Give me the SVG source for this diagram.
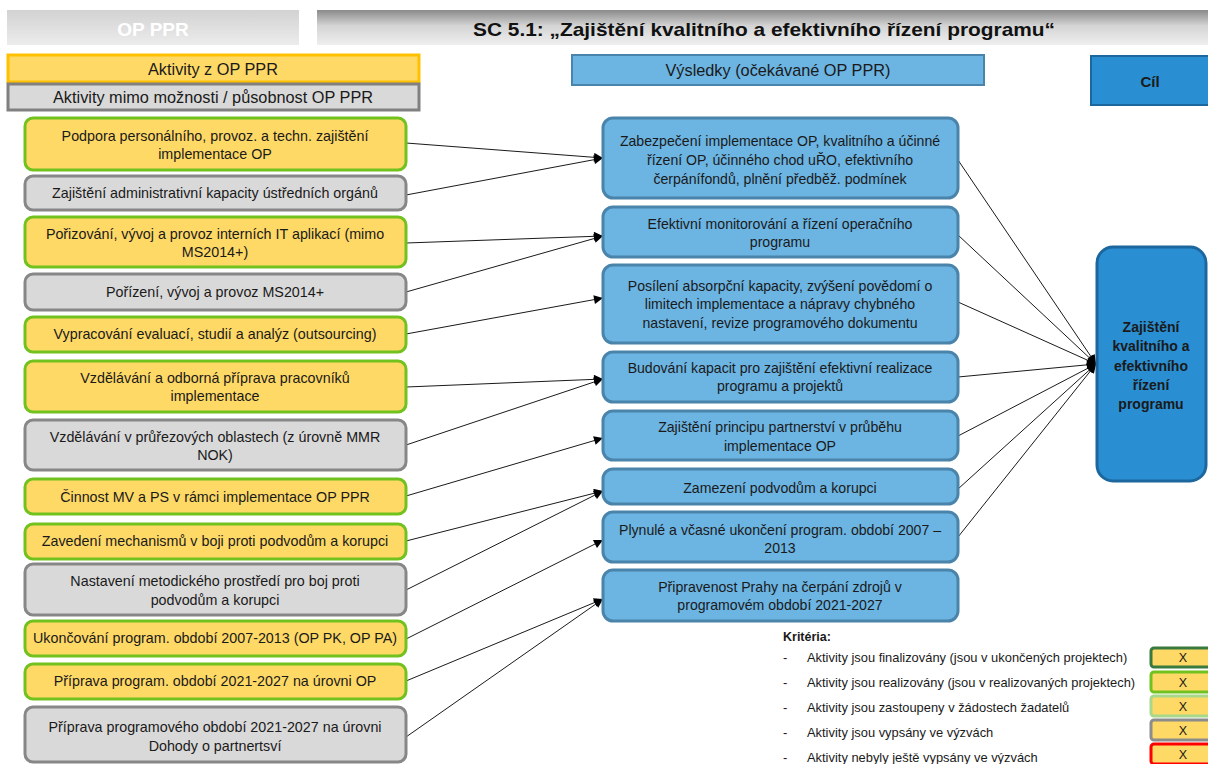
<svg xmlns="http://www.w3.org/2000/svg" width="1208" height="764" viewBox="0 0 1208 764">
<defs>
<linearGradient id="gLeft" x1="0" y1="0" x2="0" y2="1">
<stop offset="0" stop-color="#d2d2d2"/><stop offset="1" stop-color="#ececec"/>
</linearGradient>
<linearGradient id="gTitle" x1="0" y1="0" x2="0" y2="1">
<stop offset="0" stop-color="#8a8a8a"/><stop offset="0.45" stop-color="#d4d4d4"/><stop offset="1" stop-color="#efefef"/>
</linearGradient>
<marker id="arr" viewBox="0 0 10 10" refX="10" refY="5" markerWidth="11" markerHeight="9" markerUnits="userSpaceOnUse" orient="auto">
<path d="M0,0 L10,5 L0,10 z" fill="#000"/>
</marker>
<style>
text{font-family:"Liberation Sans",Arial,sans-serif;fill:#1a1a1a;text-anchor:middle}
.act{fill:#FFD966;stroke:#72C21F;stroke-width:3}
.ext{fill:#D9D9D9;stroke:#878787;stroke-width:3}
.res{fill:#6CB4E2;stroke:#4A84AA;stroke-width:3}
.goal{fill:#2A8ED2;stroke:#1C679E;stroke-width:3}
.t13{font-size:14.3px}
.t135{font-size:14.1px}
.hd{font-size:16.3px}
.lg{font-size:12.9px;text-anchor:start}
.conn line{stroke:#1a1a1a;stroke-width:1;marker-end:url(#arr)}
.key{fill:#FFD966;stroke-width:3}
</style>
</defs>

<g id="header">
<rect x="7" y="10" width="292" height="35" fill="url(#gLeft)"/>
<text x="153" y="36" style="font-size:19px;font-weight:bold;fill:#ffffff">OP PPR</text>
<rect x="317" y="10" width="891" height="35" fill="url(#gTitle)"/>
<text x="764" y="36" style="font-size:19px;font-weight:bold;fill:#111" textLength="582" lengthAdjust="spacingAndGlyphs">SC 5.1: „Zajištění kvalitního a efektivního řízení programu“</text>
</g>

<g id="legend-top">
<rect x="8" y="55" width="411" height="27" fill="#FFD966" stroke="#FFC000" stroke-width="3"/>
<text x="213" y="74.5" class="hd">Aktivity z OP PPR</text>
<rect x="8" y="84" width="411" height="26" fill="#D9D9D9" stroke="#808080" stroke-width="3"/>
<text x="213" y="103" class="hd">Aktivity mimo možnosti / působnost OP PPR</text>
<rect x="572" y="55" width="412" height="30" fill="#6CB4E2" stroke="#4A84AA" stroke-width="2"/>
<text x="778" y="76" class="hd">Výsledky (očekávané OP PPR)</text>
<rect x="1091" y="56" width="125" height="49" fill="#2A8ED2" stroke="#1C679E" stroke-width="2"/>
<text x="1150" y="87" style="font-size:15px;font-weight:bold">Cíl</text>
</g>

<g id="connectors">
<g class="conn">
<line x1="406" y1="143" x2="603" y2="158"/>
<line x1="406" y1="195" x2="603" y2="158"/>
<line x1="406" y1="243" x2="603" y2="236"/>
<line x1="406" y1="292" x2="603" y2="236"/>
<line x1="406" y1="334" x2="603" y2="298"/>
<line x1="406" y1="387" x2="603" y2="379"/>
<line x1="406" y1="445" x2="603" y2="379"/>
<line x1="406" y1="496" x2="603" y2="438"/>
<line x1="406" y1="541" x2="603" y2="491"/>
<line x1="406" y1="590" x2="603" y2="491"/>
<line x1="406" y1="639" x2="603" y2="540"/>
<line x1="406" y1="681" x2="603" y2="599"/>
<line x1="406" y1="737" x2="603" y2="599"/>
<line x1="958" y1="160" x2="1096" y2="364"/>
<line x1="958" y1="235" x2="1096" y2="364"/>
<line x1="958" y1="302" x2="1096" y2="364"/>
<line x1="958" y1="377" x2="1096" y2="364"/>
<line x1="958" y1="436" x2="1096" y2="364"/>
<line x1="958" y1="489" x2="1096" y2="364"/>
<line x1="958" y1="537" x2="1096" y2="364"/>
</g>
</g>

<g id="a1"><rect class="act" x="25" y="118" width="381" height="52" rx="8"/>
<text class="t13" x="215" y="141">Podpora personálního, provoz. a techn. zajištění</text>
<text class="t13" x="215" y="159">implementace OP</text></g>
<g id="a2"><rect class="ext" x="25" y="176" width="381" height="34" rx="8"/>
<text class="t13" x="215" y="198">Zajištění administrativní kapacity ústředních orgánů</text></g>
<g id="a3"><rect class="act" x="25" y="217" width="381" height="50" rx="8"/>
<text class="t13" x="215" y="239">Pořizování, vývoj a provoz interních IT aplikací (mimo</text>
<text class="t13" x="215" y="257">MS2014+)</text></g>
<g id="a4"><rect class="ext" x="25" y="274" width="381" height="36" rx="8"/>
<text class="t13" x="215" y="297">Pořízení, vývoj a provoz MS2014+</text></g>
<g id="a5"><rect class="act" x="25" y="317" width="381" height="35" rx="8"/>
<text class="t13" x="215" y="339">Vypracování evaluací, studií a analýz (outsourcing)</text></g>
<g id="a6"><rect class="act" x="25" y="361" width="381" height="51" rx="8"/>
<text class="t13" x="215" y="383">Vzdělávání a odborná příprava pracovníků</text>
<text class="t13" x="215" y="401">implementace</text></g>
<g id="a7"><rect class="ext" x="25" y="420" width="381" height="50" rx="8"/>
<text class="t13" x="215" y="442">Vzdělávání v průřezových oblastech (z úrovně MMR</text>
<text class="t13" x="215" y="460">NOK)</text></g>
<g id="a8"><rect class="act" x="25" y="479" width="381" height="35" rx="8"/>
<text class="t13" x="215" y="502">Činnost MV a PS v rámci implementace OP PPR</text></g>
<g id="a9"><rect class="act" x="25" y="524" width="381" height="35" rx="8"/>
<text class="t13" x="215" y="546">Zavedení mechanismů v boji proti podvodům a korupci</text></g>
<g id="a10"><rect class="ext" x="25" y="564" width="381" height="51" rx="8"/>
<text class="t13" x="215" y="586">Nastavení metodického prostředí pro boj proti</text>
<text class="t13" x="215" y="605">podvodům a korupci</text></g>
<g id="a11"><rect class="act" x="25" y="621" width="381" height="35" rx="8"/>
<text class="t13" x="215" y="643">Ukončování program. období 2007-2013 (OP PK, OP PA)</text></g>
<g id="a12"><rect class="act" x="25" y="664" width="381" height="35" rx="8"/>
<text class="t13" x="215" y="686">Příprava program. období 2021-2027 na úrovni OP</text></g>
<g id="a13"><rect class="ext" x="25" y="707" width="381" height="55" rx="8"/>
<text class="t13" x="215" y="732">Příprava programového období 2021-2027 na úrovni</text>
<text class="t13" x="215" y="751">Dohody o partnertsví</text></g>

<g id="r1"><rect class="res" x="603" y="118" width="355" height="80" rx="10"/>
<text class="t135" x="780" y="146">Zabezpečení implementace OP, kvalitního a účinné</text>
<text class="t135" x="780" y="165">řízení OP, účinného chod uŘO, efektivního</text>
<text class="t135" x="780" y="184">čerpánífondů, plnění předběž. podmínek</text></g>
<g id="r2"><rect class="res" x="603" y="207" width="355" height="50" rx="10"/>
<text class="t135" x="780" y="229">Efektivní monitorování a řízení operačního</text>
<text class="t135" x="780" y="247">programu</text></g>
<g id="r3"><rect class="res" x="603" y="265" width="355" height="78" rx="10"/>
<text class="t135" x="780" y="291">Posílení absorpční kapacity, zvýšení povědomí o</text>
<text class="t135" x="780" y="309">limitech implementace a nápravy chybného</text>
<text class="t135" x="780" y="328">nastavení, revize programového dokumentu</text></g>
<g id="r4"><rect class="res" x="603" y="352" width="355" height="50" rx="10"/>
<text class="t135" x="780" y="373">Budování kapacit pro zajištění efektivní realizace</text>
<text class="t135" x="780" y="391">programu a projektů</text></g>
<g id="r5"><rect class="res" x="603" y="411" width="355" height="49" rx="10"/>
<text class="t135" x="780" y="432">Zajištění principu partnerství v průběhu</text>
<text class="t135" x="780" y="451">implementace OP</text></g>
<g id="r6"><rect class="res" x="603" y="469" width="355" height="35" rx="10"/>
<text class="t135" x="780" y="493">Zamezení podvodům a korupci</text></g>
<g id="r7"><rect class="res" x="603" y="512" width="355" height="50" rx="10"/>
<text class="t135" x="780" y="535">Plynulé a včasné ukončení program. období 2007 –</text>
<text class="t135" x="780" y="553">2013</text></g>
<g id="r8"><rect class="res" x="603" y="570" width="355" height="51" rx="10"/>
<text class="t135" x="780" y="592">Připravenost Prahy na čerpání zdrojů v</text>
<text class="t135" x="780" y="610">programovém období 2021-2027</text></g>

<g id="goal"><rect class="goal" x="1097" y="247" width="109" height="234" rx="16"/>
<g style="font-size:14px;font-weight:bold">
<text x="1151" y="332">Zajištění</text>
<text x="1151" y="351">kvalitního a</text>
<text x="1151" y="371">efektivního</text>
<text x="1151" y="390">řízení</text>
<text x="1151" y="409">programu</text>
</g></g>

<g id="criteria">
<text x="783" y="641" style="font-size:12.5px;font-weight:bold;text-anchor:start">Kritéria:</text>
<text class="lg" x="783" y="662">-</text><text class="lg" x="807" y="662">Aktivity jsou finalizovány (jsou v ukončených projektech)</text>
<text class="lg" x="783" y="687">-</text><text class="lg" x="807" y="687">Aktivity jsou realizovány (jsou v realizovaných projektech)</text>
<text class="lg" x="783" y="712">-</text><text class="lg" x="807" y="712">Aktivity jsou zastoupeny v žádostech žadatelů</text>
<text class="lg" x="783" y="737">-</text><text class="lg" x="807" y="737">Aktivity jsou vypsány ve výzvách</text>
<text class="lg" x="783" y="762">-</text><text class="lg" x="807" y="762">Aktivity nebyly ještě vypsány ve výzvách</text>
<rect class="key" x="1151" y="648" width="70" height="19" rx="3" stroke="#3B7A3E"/>
<text x="1183" y="662" style="font-size:12.5px">X</text>
<rect class="key" x="1151" y="672" width="70" height="20" rx="3" stroke="#72C21F"/>
<text x="1183" y="687" style="font-size:12.5px">X</text>
<rect class="key" x="1151" y="696" width="70" height="20" rx="3" stroke="#A8D88A"/>
<text x="1183" y="711" style="font-size:12.5px">X</text>
<rect class="key" x="1151" y="720" width="70" height="20" rx="3" stroke="#8C8C8C"/>
<text x="1183" y="735" style="font-size:12.5px">X</text>
<rect class="key" x="1151" y="744" width="70" height="20" rx="3" stroke="#FF0000"/>
<text x="1183" y="759" style="font-size:12.5px">X</text>
</g>
</svg>
